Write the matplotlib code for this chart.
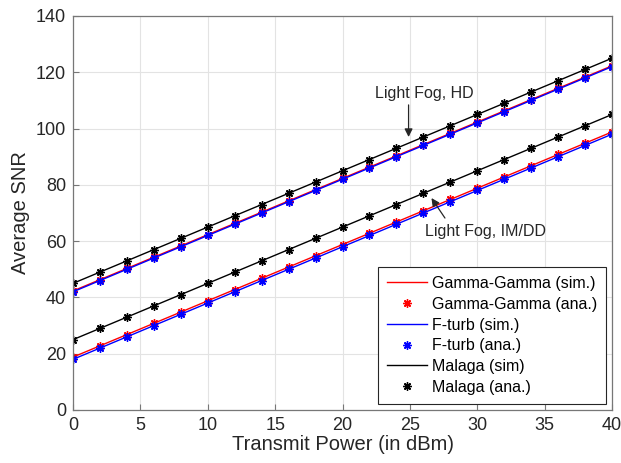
import matplotlib
matplotlib.use('Agg')
import matplotlib.pyplot as plt

# transmit power (dBm)
power = [0, 2, 4, 6, 8, 10, 12, 14, 16, 18, 20, 22, 24, 26, 28, 30, 32, 34, 36, 38, 40]

# Light fog, HD
gg_hd = [42.3, 46.3, 50.3, 54.3, 58.3, 62.3, 66.3, 70.3, 74.3, 78.3, 82.3,
         86.3, 90.3, 94.3, 98.3, 102.3, 106.3, 110.3, 114.3, 118.3, 122.3]
ft_hd = [42.0, 46.0, 50.0, 54.0, 58.0, 62.0, 66.0, 70.0, 74.0, 78.0, 82.0,
         86.0, 90.0, 94.0, 98.0, 102.0, 106.0, 110.0, 114.0, 118.0, 122.0]
ml_hd = [45.0, 49.0, 53.0, 57.0, 61.0, 65.0, 69.0, 73.0, 77.0, 81.0, 85.0,
         89.0, 93.0, 97.0, 101.0, 105.0, 109.0, 113.0, 117.0, 121.0, 125.0]

# Light fog, IM/DD
gg_im = [18.8, 22.8, 26.8, 30.8, 34.8, 38.8, 42.8, 46.8, 50.8, 54.8, 58.8,
         62.8, 66.8, 70.8, 74.8, 78.8, 82.8, 86.8, 90.8, 94.8, 98.8]
ft_im = [18.0, 22.0, 26.0, 30.0, 34.0, 38.0, 42.0, 46.0, 50.0, 54.0, 58.0,
         62.0, 66.0, 70.0, 74.0, 78.0, 82.0, 86.0, 90.0, 94.0, 98.0]
ml_im = [25.0, 29.0, 33.0, 37.0, 41.0, 45.0, 49.0, 53.0, 57.0, 61.0, 65.0,
         69.0, 73.0, 77.0, 81.0, 85.0, 89.0, 93.0, 97.0, 101.0, 105.0]

plt.rcParams['font.family'] = ['Liberation Sans', 'DejaVu Sans']

fig = plt.figure(figsize=(6.21, 4.63), dpi=100)
ax = fig.add_axes([0.1176, 0.1145, 0.868, 0.851])

ast = (8, 2, 0)
ms = 6
series = [
    ('Gamma-Gamma', 'red', gg_hd, gg_im, '(sim.)'),
    ('F-turb', 'blue', ft_hd, ft_im, '(sim.)'),
    ('Malaga', 'black', ml_hd, ml_im, '(sim)'),
]
for name, col, hd, im, simtag in series:
    ax.plot(power, hd, color=col, lw=1.0, label='%s %s' % (name, simtag))
    ax.plot(power, im, color=col, lw=1.0)
    ax.plot(power, hd, ls='none', marker=ast, ms=ms, mec=col, mew=1.0, label='%s (ana.)' % name)
    ax.plot(power, im, ls='none', marker=ast, ms=ms, mec=col, mew=1.0)

arrow = dict(arrowstyle='-|>', color='#262626', lw=0.9, shrinkA=0, shrinkB=0,
             mutation_scale=12)
ax.text(26.1, 112.6, 'Light Fog, HD', ha='center', va='center', fontsize=11.5, color='#262626')
ax.annotate('', xy=(24.9, 97.0), xytext=(24.9, 108.4), arrowprops=arrow)
ax.text(30.6, 63.3, 'Light Fog, IM/DD', ha='center', va='center', fontsize=11.5, color='#262626')
ax.annotate('', xy=(26.6, 75.3), xytext=(27.6, 68.2), arrowprops=arrow)

ax.set_xlim(0, 40)
ax.set_ylim(0, 140)
ax.set_xticks(range(0, 41, 5))
ax.set_yticks(range(0, 141, 20))
ax.grid(True, color='#e3e3e3', lw=0.8)
ax.set_axisbelow(True)
ax.tick_params(direction='in', length=4, labelsize=13, colors='#262626',
               top=False, right=False, pad=5)
ax.tick_params(colors='#777777', labelcolor='#262626')
for s in ax.spines.values():
    s.set_color('#777777')
    s.set_linewidth(0.9)
ax.set_xlabel('Transmit Power (in dBm)', fontsize=14.5, color='#262626', labelpad=1)
ax.set_ylabel('Average SNR', fontsize=14.5, color='#262626', labelpad=4)

leg = ax.legend(loc='lower right', fontsize=11.5, fancybox=False, framealpha=1,
                edgecolor='#262626', handlelength=2.5, handletextpad=0.3,
                borderaxespad=0.4, labelspacing=0.36, borderpad=0.55)
leg.get_frame().set_linewidth(0.8)

plt.savefig('out.png', dpi=100)
